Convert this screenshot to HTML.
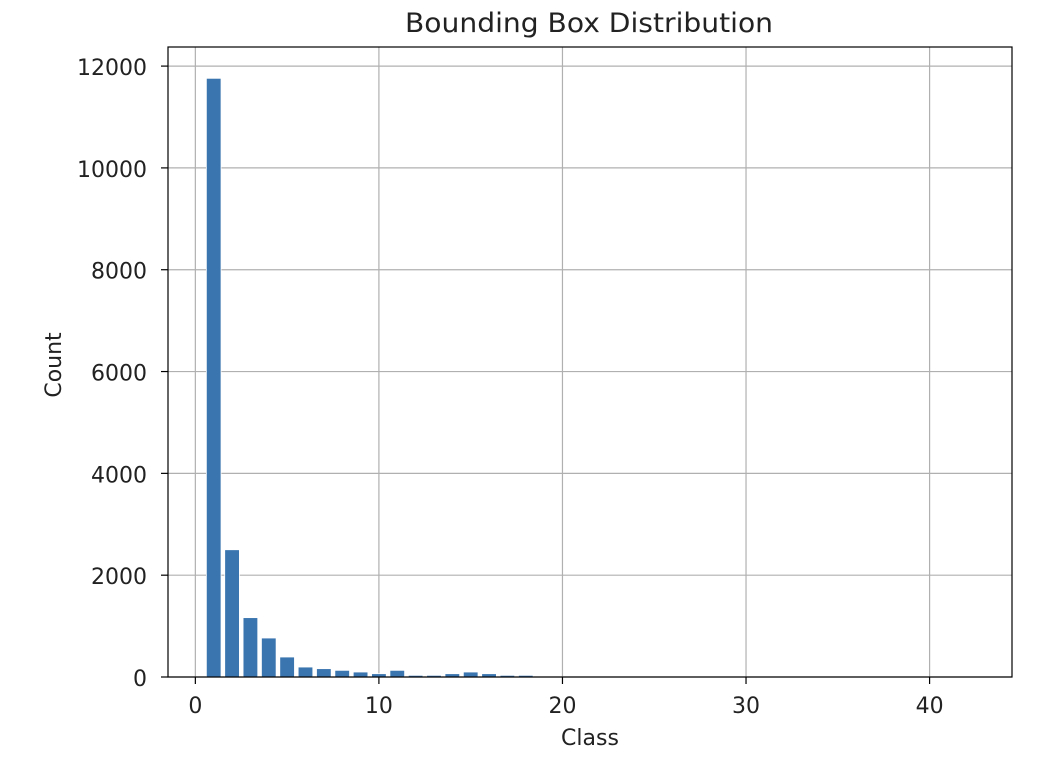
<!DOCTYPE html>
<html><head><meta charset="utf-8"><style>
body{margin:0;background:#fff;}
svg text{font-family:"DejaVu Sans","Liberation Sans",sans-serif;fill:#222;}
</style></head><body>
<svg width="1050" height="772">
<g id="grid"></g><g id="bars"></g><g id="axes"></g>
<text x="589" y="32" font-size="27" text-anchor="middle" textLength="368" lengthAdjust="spacingAndGlyphs">Bounding Box Distribution</text>
<text x="590" y="745" font-size="22" text-anchor="middle">Class</text>
<text x="61" y="365" font-size="22" text-anchor="middle" transform="rotate(-90 61 365)">Count</text>
</svg>
<script>
const classes=[];for(let i=1;i<=42;i++)classes.push(i);
const counts=[11760,2500,1166,766,393,196,164,131,98,65,131,33,33,65,98,65,33,33,0,0,0,0,0,0,0,0,0,0,0,0,0,0,0,0,0,0,0,0,0,0,0,0];
const xTicks=[0,10,20,30,40];
const yTicks=[0,2000,4000,6000,8000,10000,12000];
const L=168,R=1012,T=47,B=677;
const xMin=-1.49,xMax=44.49,yMax=12375;
const X=v=>L+(v-xMin)/(xMax-xMin)*(R-L);
const Y=v=>B-v/yMax*(B-T);
const NS="http://www.w3.org/2000/svg";
function mk(t,a,p){const e=document.createElementNS(NS,t);for(const k in a)e.setAttribute(k,a[k]);p.appendChild(e);return e;}
const g=document.getElementById('grid'),b=document.getElementById('bars'),ax=document.getElementById('axes');
xTicks.forEach(t=>{
 const l=mk('line',{x1:X(t),x2:X(t),y1:T,y2:B,stroke:'#b0b0b0','stroke-width':1.2},g);
 
 
 mk('line',{x1:X(t),x2:X(t),y1:B,y2:B+7,stroke:'#000','stroke-width':1.2},ax);
 const tx=mk('text',{x:X(t),y:713,'font-size':22,'text-anchor':'middle'},ax);tx.textContent=t;
 
 
});
yTicks.forEach(t=>{
 const l=mk('line',{x1:L,x2:R,y1:Y(t),y2:Y(t),stroke:'#b0b0b0','stroke-width':1.2},g);
 
 
 mk('line',{x1:L-7,x2:L,y1:Y(t),y2:Y(t),stroke:'#000','stroke-width':1.2},ax);
 const tx=mk('text',{x:147,y:Y(t)+9,'font-size':22,'text-anchor':'end'},ax);tx.textContent=t;
 
 
});
classes.forEach((c,i)=>{
 const v=counts[i];if(v<=0)return;
 const r=mk('rect',{x:X(c-0.4),width:X(c+0.4)-X(c-0.4),y:Y(v),height:B-Y(v),fill:'#3a75af',stroke:'#fff','stroke-width':0.8},b);
 
 
});
const fr=mk('rect',{x:L,y:T,width:R-L,height:B-T,fill:'none',stroke:'#000','stroke-width':1.2},ax);


</script>
</body></html>
